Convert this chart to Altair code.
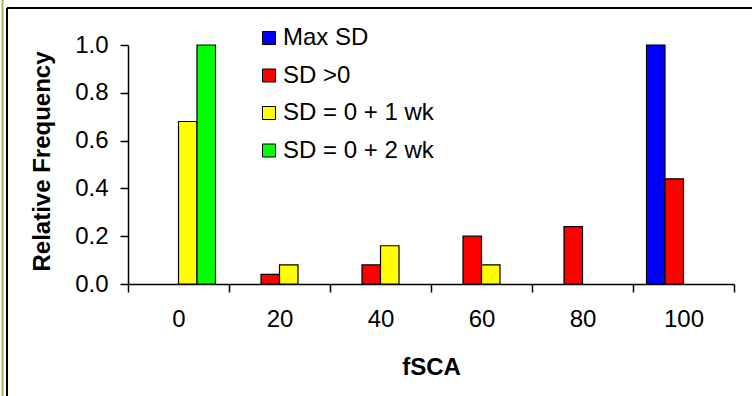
import altair as alt
import pandas as pd

# fSCA classes on the x axis
fsca = ["0", "20", "40", "60", "80", "100"]
series = ["Max SD", "SD >0", "SD = 0 + 1 wk", "SD = 0 + 2 wk"]
colors = ["#0000FF", "#FF0000", "#FFFF00", "#00FF00"]

# relative frequency per fSCA class, one list per series
max_sd = [0.0, 0.0, 0.0, 0.0, 0.0, 1.0]
sd_pos = [0.0, 0.04, 0.08, 0.20, 0.24, 0.44]
sd0_1wk = [0.68, 0.08, 0.16, 0.08, 0.0, 0.0]
sd0_2wk = [1.0, 0.0, 0.0, 0.0, 0.0, 0.0]

rows = []
for name, vals in zip(series, [max_sd, sd_pos, sd0_1wk, sd0_2wk]):
    for cls, v in zip(fsca, vals):
        rows.append({"fSCA": cls, "series": name, "freq": v})
df = pd.DataFrame(rows)

FONT = "Liberation Sans"
W, H = 606, 239

bars = (
    alt.Chart(df)
    .transform_filter("datum.freq > 0")
    .mark_bar(stroke="black", strokeWidth=1.2)
    .encode(
        x=alt.X(
            "fSCA:N",
            sort=fsca,
            scale=alt.Scale(domain=fsca, paddingInner=0, paddingOuter=0),
            axis=alt.Axis(
                title="fSCA",
                labelAngle=0,
                tickBand="extent",
                tickSize=8,
                labelPadding=15,
                titlePadding=24,
            ),
        ),
        xOffset=alt.XOffset(
            "series:N",
            scale=alt.Scale(domain=series, paddingInner=0, paddingOuter=0.73),
        ),
        y=alt.Y(
            "freq:Q",
            scale=alt.Scale(domain=[0, 1]),
            axis=alt.Axis(
                title="Relative Frequency",
                values=[0, 0.2, 0.4, 0.6, 0.8, 1.0],
                format=".1f",
                tickSize=8,
                labelPadding=12,
                titlePadding=20,
                titleY=116,
                grid=False,
            ),
        ),
        color=alt.Color(
            "series:N",
            scale=alt.Scale(domain=series, range=colors),
            legend=alt.Legend(
                title=None,
                orient="none",
                legendX=129,
                legendY=-19,
                symbolType="square",
                symbolSize=169,
                symbolStrokeColor="black",
                symbolStrokeWidth=1,
                symbolOpacity=1,
                labelFontSize=24,
                labelFont=FONT,
                labelColor="black",
                rowPadding=13.5,
                labelOffset=2,
            ),
        ),
    )
)

# outer frame of the figure
frame = alt.Chart(pd.DataFrame({"k": [0]})).mark_rule(color="black", strokeWidth=2).encode(
    x=alt.value(-121), x2=alt.value(700), y=alt.value(-37)
) + alt.Chart(pd.DataFrame({"k": [0]})).mark_rule(color="black", strokeWidth=2).encode(
    x=alt.value(-121), y=alt.value(-37), y2=alt.value(400)
) + alt.Chart(pd.DataFrame({"k": [0]})).mark_rule(color="#9BBB59", strokeWidth=2).encode(
    x=alt.value(-125.5), y=alt.value(-60), y2=alt.value(400)
)

chart = (
    alt.layer(frame, bars)
    .properties(
        width=W,
        height=H,
        autosize=alt.AutoSizeParams(type="none"),
        padding={"left": 128, "top": 45, "right": 18, "bottom": 112},
        background="white",
    )
    .configure_view(stroke=None)
    .configure_axis(
        domainColor="black",
        domainWidth=1.5,
        tickColor="black",
        tickWidth=1.5,
        labelFont=FONT,
        labelFontSize=24,
        labelColor="black",
        titleFont=FONT,
        titleFontSize=24,
        titleFontWeight="bold",
        titleColor="black",
    )
)

chart.save("out.html", embed_options={"renderer": "svg", "actions": False})
